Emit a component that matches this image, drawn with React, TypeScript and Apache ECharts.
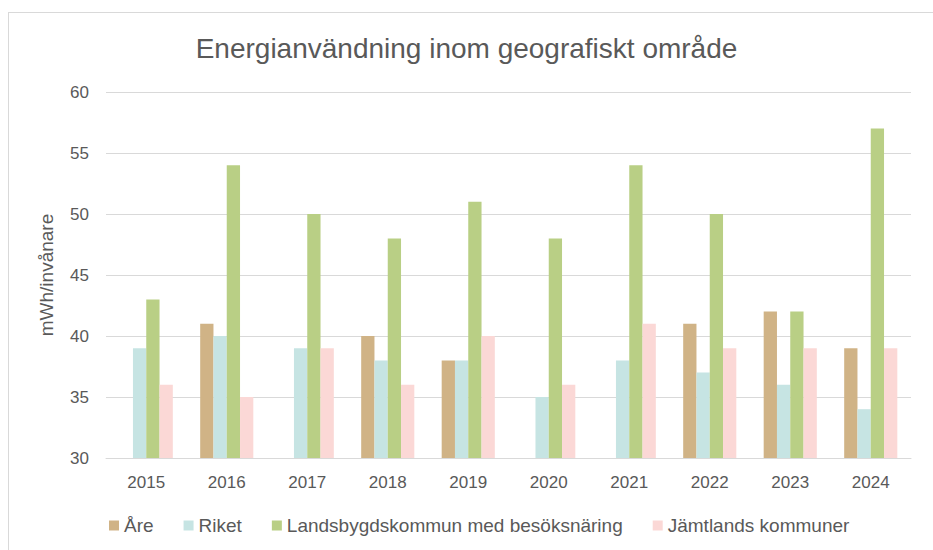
import React, { useEffect, useRef } from "react";
import * as echarts from "echarts";

const years = ["2015", "2016", "2017", "2018", "2019", "2020", "2021", "2022", "2023", "2024"];
const are = [null, 41, null, 40, 38, null, null, 41, 42, 39];
const riket = [39, 40, 39, 38, 38, 35, 38, 37, 36, 34];
const landsbygd = [43, 54, 50, 48, 51, 48, 54, 50, 42, 57];
const jamtland = [36, 35, 39, 36, 40, 36, 41, 39, 39, 39];

const seriesNames = ["Åre", "Riket", "Landsbygdskommun med besöksnäring", "Jämtlands kommuner"];
const colors = ["#d0b386", "#c6e4e3", "#b9cf85", "#fbd8d6"];

const font = '"Liberation Sans", Arial, sans-serif';

export default function App() {
  const ref = useRef<HTMLDivElement>(null);
  useEffect(() => {
    if (!ref.current) return;
    const chart = echarts.init(ref.current, undefined, { renderer: "svg" });
    const data = [are, riket, landsbygd, jamtland];
    chart.setOption({
      animation: false,
      backgroundColor: "#ffffff",
      title: {
        text: "Energianvändning inom geografiskt område",
        left: "center",
        top: 29,
        textStyle: { fontFamily: font, fontSize: 28, fontWeight: "normal", color: "#595959" },
      },
      graphic: [
        { type: "line", shape: { x1: 8, y1: 12.5, x2: 933, y2: 12.5 }, style: { stroke: "#d9d9d9", lineWidth: 1 } },
        { type: "line", shape: { x1: 8.5, y1: 12, x2: 8.5, y2: 550 }, style: { stroke: "#d9d9d9", lineWidth: 1 } },
      ],
      legend: {
        bottom: 10,
        left: 104,
        itemWidth: 10,
        itemHeight: 10,
        itemGap: 30,
        icon: "rect",
        textStyle: { fontFamily: font, fontSize: 19, color: "#595959" },
        data: seriesNames,
      },
      grid: { left: 106, right: 22, top: 92, bottom: 92 },
      xAxis: {
        type: "category",
        data: years,
        axisLine: { lineStyle: { color: "#d9d9d9", width: 1 } },
        axisTick: { show: false },
        axisLabel: { fontFamily: font, fontSize: 17, color: "#595959", margin: 16 },
      },
      yAxis: {
        type: "value",
        min: 30,
        max: 60,
        interval: 5,
        name: "mWh/invånare",
        nameLocation: "middle",
        nameGap: 50,
        nameTextStyle: { fontFamily: font, fontSize: 19, color: "#595959" },
        axisLine: { show: false },
        axisTick: { show: false },
        splitLine: { lineStyle: { color: "#d9d9d9", width: 1 } },
        axisLabel: { fontFamily: font, fontSize: 17, color: "#595959", margin: 17 },
      },
      series: seriesNames.map((name, i) => ({
        name,
        type: "bar",
        data: data[i],
        barGap: "0%",
        barCategoryGap: "34%",
        itemStyle: { color: colors[i] },
      })),
    });
    return () => chart.dispose();
  }, []);
  return <div ref={ref} style={{ width: 933, height: 550, position: "absolute", left: 0, top: 0 }} />;
}
